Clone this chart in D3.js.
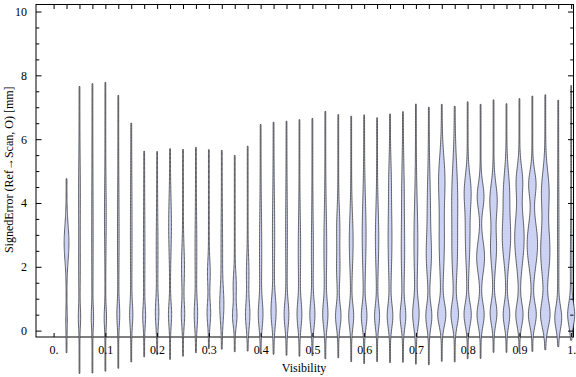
<!DOCTYPE html>
<html><head><meta charset="utf-8">
<script src="https://cdn.jsdelivr.net/npm/d3@7"></script>
<style>html,body{margin:0;padding:0;background:#fff;}svg{display:block;}</style>
</head><body>
<svg id="chart" width="576" height="377"></svg>
<script>
// ---- data ----
const visibility = [0.025,0.05,0.075,0.1,0.125,0.15,0.175,0.2,0.225,0.25,0.275,0.3,0.325,0.35,0.375,0.4,0.425,0.45,0.475,0.5,
  0.525,0.55,0.575,0.6,0.625,0.65,0.675,0.7,0.725,0.75,0.775,0.8,0.825,0.85,0.875,0.9,0.925,0.95,0.975,1.0];
const maxError = [4.76,7.65,7.74,7.78,7.37,6.5,5.62,5.61,5.70,5.68,5.74,5.67,5.65,5.49,5.78,6.46,6.53,6.56,6.61,6.65,
  6.87,6.77,6.72,6.76,6.67,6.79,6.86,7.1,7.0,7.09,7.03,7.17,7.09,7.23,7.11,7.27,7.35,7.39,7.22,7.68];
const minError = [-0.69,-1.34,-1.33,-1.27,-1.18,-0.98,-0.82,-0.75,-0.9,-0.8,-0.69,-0.56,-0.58,-0.66,-0.64,-0.71,-0.74,-0.77,-0.8,-0.78,
  -0.88,-0.85,-0.97,-1.03,-0.97,-1.0,-0.99,-1.05,-1.07,-0.96,-0.98,-0.88,-0.87,-0.68,-0.68,-0.68,-0.65,-0.6,-0.5,-0.3];
// density modes per violin: [centre (mm), spread (mm), relative density]
const densityModes = [
  [[2.75,0.55,0.50],[0.3,0.3,0.10]],
  [[4.3,1.0,0.12],[2.0,0.8,0.10],[0.4,0.3,0.18]],
  [[3.0,1.5,0.08],[0.4,0.3,0.18]],
  [[3.6,0.9,0.12],[0.4,0.3,0.20]],
  [[3.0,1.2,0.10],[0.5,0.35,0.25]],
  [[3.0,1.5,0.10],[0.5,0.35,0.28]],
  [[2.5,1.2,0.08],[0.45,0.3,0.25]],
  [[2.5,1.0,0.12],[0.55,0.4,0.32]],
  [[3.3,0.8,0.25],[0.5,0.35,0.30]],
  [[2.0,0.6,0.28],[0.5,0.35,0.32]],
  [[2.5,1.0,0.12],[0.5,0.4,0.32]],
  [[1.8,0.4,0.25],[0.55,0.35,0.35]],
  [[0.8,0.5,0.40],[2.5,1.0,0.10]],
  [[1.4,0.4,0.30],[0.45,0.3,0.45]],
  [[0.5,0.4,0.45],[1.8,0.5,0.22]],
  [[0.5,0.4,0.45],[2.5,1.2,0.18]],
  [[0.6,0.45,0.52],[3.0,1.2,0.18]],
  [[0.5,0.4,0.48],[3.0,1.2,0.12]],
  [[0.5,0.4,0.48],[2.5,1.0,0.20]],
  [[0.5,0.4,0.52],[2.5,1.0,0.15]],
  [[0.5,0.4,0.52],[2.6,1.1,0.25]],
  [[0.45,0.35,0.58],[3.2,0.6,0.30],[1.9,0.5,0.30]],
  [[0.45,0.35,0.52],[2.8,0.8,0.38]],
  [[0.45,0.35,0.58],[3.0,1.1,0.38]],
  [[0.45,0.35,0.52],[2.9,0.9,0.32]],
  [[0.45,0.35,0.58],[2.9,1.1,0.38],[4.8,0.6,0.15]],
  [[0.45,0.35,0.58],[2.5,1.0,0.32],[4.5,0.8,0.18]],
  [[0.5,0.4,0.65],[2.8,1.2,0.38]],
  [[0.45,0.35,0.65],[2.3,0.6,0.45],[3.8,1.0,0.30]],
  [[4.8,0.7,0.62],[2.8,1.0,0.55],[0.5,0.35,0.88]],
  [[4.2,1.0,0.62],[2.3,0.8,0.48],[0.5,0.35,0.80]],
  [[4.4,0.5,0.62],[3.0,0.9,0.48],[0.5,0.35,0.80]],
  [[4.2,0.4,0.75],[2.3,0.5,0.88],[0.5,0.35,0.80]],
  [[4.1,0.5,0.80],[2.6,0.6,0.65],[0.55,0.35,0.75]],
  [[4.4,0.6,0.60],[2.9,0.7,0.92],[0.5,0.35,0.72]],
  [[4.7,0.45,0.65],[2.9,0.8,1.08],[0.5,0.35,0.80]],
  [[4.6,0.4,0.80],[2.7,0.7,1.20],[0.5,0.35,0.88]],
  [[4.4,0.6,0.80],[2.5,0.8,1.05],[0.5,0.4,1.05]],
  [[0.4,0.35,0.75],[3.0,1.5,0.08]],
  [[0.5,0.35,0.75],[2.0,1.0,0.10]]
];
const xTickValues = [0,0.1,0.2,0.3,0.4,0.5,0.6,0.7,0.8,0.9,1.0];
const xTickLabels = ["0.","0.1","0.2","0.3","0.4","0.5","0.6","0.7","0.8","0.9","1."];
const yTickValues = [0,2,4,6,8,10];
const yMinorTicks = [0.5,1,1.5,2.5,3,3.5,4.5,5,5.5,6.5,7,7.5,8.5,9,9.5];
const xLabel = "Visibility";
const yLabel = "SignedError (Ref\u2192Scan, O) [mm]";

// ---- layout ----
const svg = d3.select("#chart");
const L = 36, R = 573.5, T = 4.5, B = 337;
const x = d3.scaleLinear().domain([-0.034, 1.0045]).range([L, R]);
const y = d3.scaleLinear().domain([-0.2, 10.22]).range([B, T]);
const w = d3.scaleLinear().domain([0, 1]).range([0, 4]);
const font = "'Liberation Serif','Times New Roman',serif";

// frame
svg.append("rect").attr("x", L).attr("y", T).attr("width", R - L).attr("height", B - T)
  .attr("fill", "none").attr("stroke", "#000").attr("stroke-width", 1);

// violins
const g = svg.append("g");
visibility.forEach((v, i) => {
  const lo = minError[i], hi = maxError[i], modes = densityModes[i];
  const n = 160;
  const pts = d3.range(n + 1).map(k => {
    const e = lo + (hi - lo) * k / n;
    let d = 0.1;
    modes.forEach(([mu, sd, a]) => { d += a * Math.exp(-0.5 * ((e - mu) / sd) ** 2); });
    return [e, d];
  });
  const area = d3.area()
    .y(p => y(p[0]))
    .x0(p => x(v) - w(p[1]))
    .x1(p => x(v) + w(p[1]))
    .curve(d3.curveBasis);
  g.append("path").attr("d", area(pts))
    .attr("fill", "#cbd2f4")
    .attr("stroke", "#333")
    .attr("stroke-opacity", 0.8)
    .attr("stroke-width", 0.95);
});

// x axis ticks (bottom, inward) with labels
const xAxis = d3.axisBottom(x).tickValues(xTickValues).tickSize(-4)
  .tickFormat((d, i) => xTickLabels[i]).tickPadding(8);
const gx = svg.append("g").attr("transform", `translate(0,${B})`).call(xAxis);
gx.select(".domain").remove();
gx.selectAll("text").attr("font-family", font).attr("font-size", 12).attr("fill", "#000");
gx.selectAll("line").attr("stroke", "#000");

// top ticks at category positions
const gt = svg.append("g").attr("transform", `translate(0,${T})`)
  .call(d3.axisTop(x).tickValues([0].concat(visibility)).tickSize(-4.5).tickFormat(""));
gt.select(".domain").remove();
gt.selectAll("line").attr("stroke", "#000");

// y axis
const yAxis = d3.axisLeft(y).tickValues(yTickValues).tickSize(-5.5).tickPadding(9)
  .tickFormat(d3.format("d"));
const gy = svg.append("g").attr("transform", `translate(${L},0)`).call(yAxis);
gy.select(".domain").remove();
gy.selectAll("text").attr("font-family", font).attr("font-size", 12).attr("fill", "#000");
gy.selectAll("line").attr("stroke", "#000");
const gym = svg.append("g").attr("transform", `translate(${L},0)`)
  .call(d3.axisLeft(y).tickValues(yMinorTicks).tickSize(-3.3).tickFormat(""));
gym.select(".domain").remove();
gym.selectAll("line").attr("stroke", "#000");
// right side mirrored
const gr = svg.append("g").attr("transform", `translate(${R},0)`)
  .call(d3.axisRight(y).tickValues(yTickValues).tickSize(-5.5).tickFormat(""));
gr.select(".domain").remove();
gr.selectAll("line").attr("stroke", "#000");
const grm = svg.append("g").attr("transform", `translate(${R},0)`)
  .call(d3.axisRight(y).tickValues(yMinorTicks).tickSize(-3.3).tickFormat(""));
grm.select(".domain").remove();
grm.selectAll("line").attr("stroke", "#000");

// labels
svg.append("text").attr("x", 304).attr("y", 372)
  .attr("text-anchor", "middle").attr("font-family", font).attr("font-size", 12)
  .text(xLabel);
svg.append("text").attr("transform", `translate(13,${(T + B) / 2 - 1}) rotate(-90)`)
  .attr("text-anchor", "middle").attr("font-family", font).attr("font-size", 12)
  .text(yLabel);
</script>
</body></html>
